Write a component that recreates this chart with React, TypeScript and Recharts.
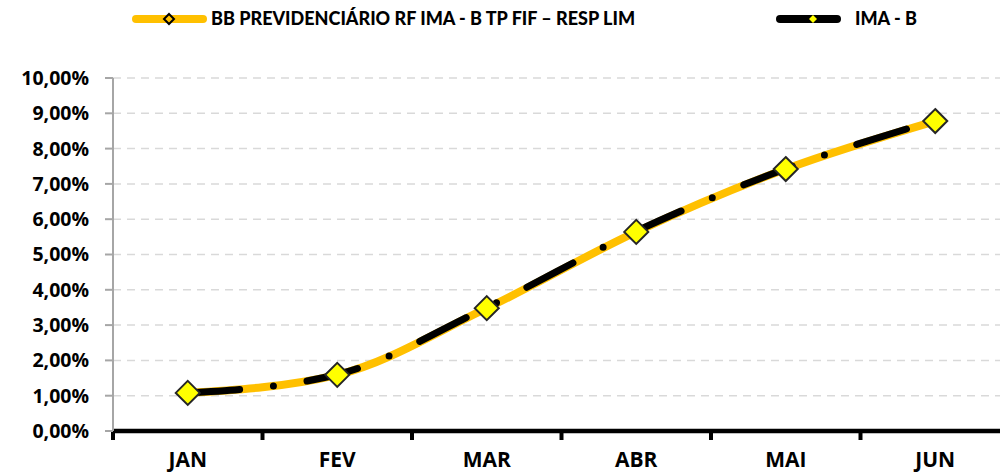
import { Legend, Line, LineChart, CartesianGrid, XAxis, YAxis } from "recharts";

const months = ["JAN", "FEV", "MAR", "ABR", "MAI", "JUN"];
const fundo = [1.08, 1.59, 3.48, 5.64, 7.42, 8.78];
const imab = [1.07, 1.6, 3.5, 5.66, 7.43, 8.8];
const yTicks = [0, 1, 2, 3, 4, 5, 6, 7, 8, 9, 10];

const FUNDO_NAME = "BB PREVIDENCIÁRIO RF IMA - B TP FIF – RESP LIM";
const IMAB_NAME = "IMA - B";

const data = months.map((month, i) => ({
    x: i + 0.5,
    month,
    fundo: fundo[i],
    imab: imab[i],
}));

const legendFont = "Lato, 'Open Sans', sans-serif";
const axisFont = "'Open Sans', Lato, sans-serif";

const pct = (v: number) => `${v.toFixed(2).replace(".", ",")}%`;

function diamond(r: number, fill: string, stroke: string, sw: number) {
    return (props: any) => {
        const { cx, cy, index } = props;
        if (cx == null || cy == null) return <g key={index} />;
        return (
            <polygon
                key={index}
                points={`${cx},${cy - r} ${cx + r},${cy} ${cx},${cy + r} ${cx - r},${cy}`}
                fill={fill}
                stroke={stroke}
                strokeWidth={sw}
            />
        );
    };
}

function LegendBox() {
    return (
        <div style={{ position: "relative", height: 40, width: 1000, fontFamily: legendFont, fontWeight: 900, fontSize: 18, color: "#000" }}>
            <svg width={1000} height={40} style={{ position: "absolute", left: 0, top: 0 }}>
                <line x1={136} y1={19} x2={203} y2={19} stroke="#FFC000" strokeWidth={8} strokeLinecap="round" />
                <polygon points="169,14 174,19 169,24 164,19" fill="#FFC000" stroke="#000" strokeWidth={2} />
                <line x1={780} y1={19} x2={837} y2={19} stroke="#000" strokeWidth={8} strokeLinecap="round" />
                <polygon points="813,15 817,19 813,23 809,19" fill="#FFFF00" />
            </svg>
            <span style={{ position: "absolute", left: 211, top: 7 }}>{FUNDO_NAME}</span>
            <span style={{ position: "absolute", left: 855, top: 7 }}>{IMAB_NAME}</span>
        </div>
    );
}

export default function App() {
    return (
        <div style={{ position: "fixed", left: 0, top: 0, width: 1000, height: 474, overflow: "hidden", background: "#fff" }}>
            <LineChart width={1012} height={474} data={data} margin={{ top: 38, right: 2, left: 0, bottom: 0 }}>
                <Legend verticalAlign="top" wrapperStyle={{ top: 0, left: 0 }} content={() => <LegendBox />} />
                <CartesianGrid vertical={false} stroke="#D9D9D9" strokeWidth={1.5} strokeDasharray="8 6" xAxisId="grid" />
                <XAxis
                    xAxisId="grid"
                    type="number"
                    dataKey="x"
                    domain={[0, 6]}
                    ticks={[0, 1, 2, 3, 4, 5, 6]}
                    tickFormatter={() => ""}
                    height={1}
                    axisLine={{ stroke: "#000", strokeWidth: 4.5 }}
                    tickLine={{ stroke: "#000", strokeWidth: 4 }}
                    tickSize={9}
                />
                <XAxis
                    xAxisId="labels"
                    type="number"
                    dataKey="x"
                    domain={[0, 6]}
                    ticks={[0.5, 1.5, 2.5, 3.5, 4.5, 5.5]}
                    tickFormatter={(v: number) => months[Math.floor(v)]}
                    height={42}
                    axisLine={false}
                    tickLine={false}
                    tickMargin={14}
                    tick={{ fill: "#000", fontFamily: axisFont, fontWeight: 700, fontSize: 21 }}
                />
                <YAxis
                    domain={[0, 10]}
                    ticks={yTicks}
                    tickFormatter={pct}
                    width={113}
                    axisLine={{ stroke: "#A6A6A6", strokeWidth: 2 }}
                    tickLine={{ stroke: "#A6A6A6", strokeWidth: 2 }}
                    tickSize={8}
                    tickMargin={16}
                    tick={{ fill: "#000", fontFamily: axisFont, fontWeight: 700, fontSize: 19.5 }}
                />
                <Line
                    xAxisId="grid"
                    type="monotone"
                    dataKey="fundo"
                    name={FUNDO_NAME}
                    stroke="#FFC000"
                    strokeWidth={8}
                    dot={false}
                    activeDot={false}
                    isAnimationActive={false}
                />
                <Line
                    xAxisId="grid"
                    type="monotone"
                    dataKey="imab"
                    name={IMAB_NAME}
                    stroke="#000"
                    strokeWidth={7}
                    strokeLinecap="round"
                    strokeDasharray="52 34 0 34"
                    dot={diamond(4, "#FFFF00", "none", 0)}
                    activeDot={false}
                    isAnimationActive={false}
                />
                <Line
                    xAxisId="grid"
                    type="monotone"
                    dataKey="fundo"
                    legendType="none"
                    stroke="none"
                    dot={diamond(12, "#FFFF00", "#262626", 2)}
                    activeDot={false}
                    isAnimationActive={false}
                />
            </LineChart>
        </div>
    );
}
